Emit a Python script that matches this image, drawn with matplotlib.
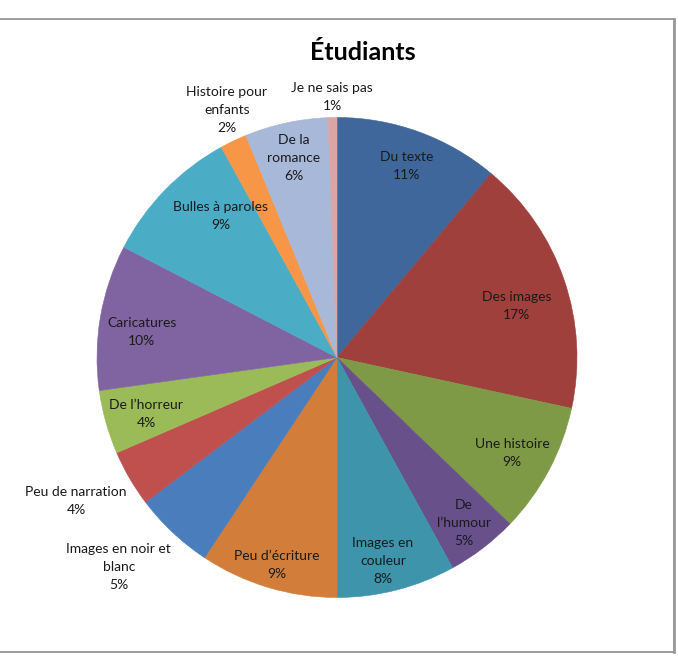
import numpy as np
import matplotlib
matplotlib.use('Agg')
import matplotlib.pyplot as plt
from matplotlib.patches import Rectangle

plt.rcParams['font.family'] = ['Lato', 'DejaVu Sans']

# Données (part de chaque réponse, en %)
categories = ['Du texte', 'Des images', 'Une histoire', 'De\nl’humour', 'Images en\ncouleur',
              'Peu d’écriture', 'Images en noir et\nblanc', 'Peu de narration', 'De l’horreur',
              'Caricatures', 'Bulles à paroles', 'Histoire pour\nenfants', 'De la\nromance',
              'Je ne sais pas']
values = [11.1, 17.3, 8.8, 4.8, 8.0, 9.3, 5.4, 3.8, 4.3, 9.8, 9.4, 1.8, 5.6, 0.6]
colors = ['#3f679b', '#9f403d', '#7e9a47', '#68518a', '#3d94ab', '#d27e3a',
          '#4a7dbc', '#c0504d', '#9bbb59', '#8064a2', '#4bacc6', '#f79646',
          '#a7b8d8', '#d9a6a5']
# position des libellés : distance (fraction du rayon) et décalage angulaire (degrés, sens horaire)
label_r = [0.85, 0.78, 0.83, 0.87, 0.87, 0.90, 1.26, 1.24, 0.83, 0.82, 0.765, 1.13, 0.85, 1.085]
label_da = [0, 2.9, 0.5, 0, 1.7, -0.6, 3.0, 1.5, -0.8, -2.3, 6.3, 1.6, 0, 0]

W, H = 678, 660
cx, cy, R = 337, H - 357.5, 240

fig = plt.figure(figsize=(W / 100, H / 100), dpi=100)
ax = fig.add_axes([0, 0, 1, 1])

# cadre du graphique
ax.add_patch(Rectangle((-2, H - 651.5), 675.5, 633, fill=False, edgecolor='#8c8c8c', linewidth=1.2))
ax.plot([673.5, 673.5], [H - 651.5, H - 18.5], color='#9a9a9a', linewidth=2)

wedges, _ = ax.pie(values, colors=colors, startangle=90, counterclock=False,
                   center=(cx, cy), radius=R, frame=True,
                   wedgeprops=dict(linewidth=0.4))
for w in wedges:
    w.set_edgecolor(w.get_facecolor())

ax.set_xlim(0, W)
ax.set_ylim(0, H)
ax.set_aspect('equal')
ax.axis('off')

for w, cat, v, fr, da in zip(wedges, categories, values, label_r, label_da):
    mid = np.deg2rad((w.theta1 + w.theta2) / 2 - da)
    x = cx + R * fr * np.cos(mid)
    y = cy + R * fr * np.sin(mid)
    ax.text(x, y, f"{cat}\n{round(v)}%", ha='center', va='center', fontsize=10,
            color='#1a1a1a', linespacing=1.6)

ax.text(363, H - 53, 'Étudiants', ha='center', va='center', fontsize=18,
        fontweight='bold', color='black')

fig.savefig('out.png', dpi=100)
